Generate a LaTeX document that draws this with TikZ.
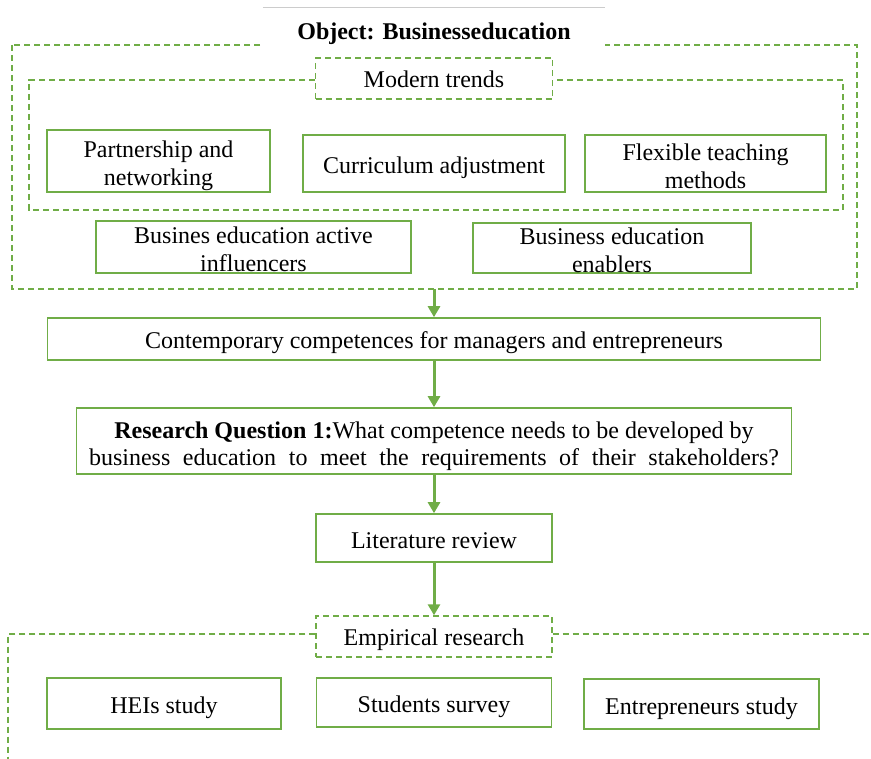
\documentclass[tikz,border=0pt]{standalone}
\usepackage{fontspec}
\setmainfont{Liberation Serif}
\usetikzlibrary{arrows.meta}
\definecolor{boxgreen}{RGB}{112,173,71}
\tikzset{
  greenbox/.style={draw=boxgreen,line width=1.6pt,align=center,inner sep=0pt,text height=23pt,text depth=3pt},
  dashbox/.style={draw=boxgreen,line width=1.4pt,dash pattern=on 6pt off 4pt},
  dashlabel/.style={dashbox,inner sep=0pt,text height=22pt,text depth=4pt},
  twoline/.style={text height=50pt,text depth=0pt},
  flow/.style={draw=boxgreen,line width=3pt,-{Triangle[length=11pt,width=12pt]}}
}

\begin{document}
\begin{tikzpicture}[x=1pt,y=-1pt,font=\fontsize{24}{28}\selectfont]
  \useasboundingbox (0,0) rectangle (871,759);
  % outer frame and title
  \draw[dashbox] (12,45) rectangle (857,289);
  \node[fill=white,minimum width=342pt,minimum height=38pt,inner sep=0pt,text height=27pt,text depth=1pt,
    font=\fontsize{24}{28}\selectfont\bfseries] (title) at (434,27) {Object: Businesseducation};
  \draw[gray!40,line width=0.8pt] (title.north west) -- (title.north east);
  % modern trends
  \node[dashlabel,minimum width=237pt,minimum height=41pt] (trends) at (434,78.5) {Modern trends};
  \coordinate (tl) at (29,80);
  \coordinate (tr) at (843,80);
  \draw[dashbox] (tl -| trends.west) -- (tl) -- (29,210) -- (843,210) -- (tr) -- (tr -| trends.east);
  \node[greenbox,twoline,minimum width=223pt,minimum height=62pt] (partner) at (158.5,161) {Partnership and\\networking};
  \node[greenbox,minimum width=262pt,minimum height=57pt] (curric) at (434,163.5) {Curriculum adjustment};
  \node[greenbox,twoline,minimum width=241pt,minimum height=57pt] (flex) at (705.5,163.5) {Flexible teaching\\methods};
  \node[greenbox,twoline,minimum width=315pt,minimum height=52pt] (influ) at (253.5,247) {Busines education active\\influencers};
  \node[greenbox,twoline,minimum width=278pt,minimum height=50pt] (enabl) at (612,248) {Business education\\enablers};
  \coordinate (objbot) at (434,289);
  % main flow
  \node[greenbox,minimum width=773pt,minimum height=42pt] (comp) at (434,339) {Contemporary competences for managers and entrepreneurs};
  \node[greenbox,twoline,minimum width=715pt,minimum height=66pt] (rq) at (434,441)
    {\textbf{Research Question 1:}What competence needs to be developed by\\
     \makebox[690pt][s]{business education to meet the requirements of their stakeholders?}};
  \node[greenbox,minimum width=236pt,minimum height=48pt] (lit) at (434,538) {Literature review};
  \node[dashlabel,minimum width=236pt,minimum height=41pt] (emp) at (434,636.5) {Empirical research};
  \draw[flow] (objbot) -- (comp);
  \draw[flow] (comp) -- (rq);
  \draw[flow] (rq) -- (lit);
  \draw[flow] (lit) -- (emp);
  % empirical frame
  \coordinate (el) at (8,634);
  \coordinate (er) at (871,634);
  \draw[dashbox] (el -| emp.west) -- (el) -- (8,759);
  \draw[dashbox] (emp.east |- er) -- (er);
  \node[greenbox,minimum width=234pt,minimum height=51pt] (hei) at (164,703.5) {HEIs study};
  \node[greenbox,minimum width=235pt,minimum height=49pt] (stud) at (434,702.5) {Students survey};
  \node[greenbox,minimum width=235pt,minimum height=50pt] (entre) at (701.5,704) {Entrepreneurs study};
\end{tikzpicture}
\end{document}
